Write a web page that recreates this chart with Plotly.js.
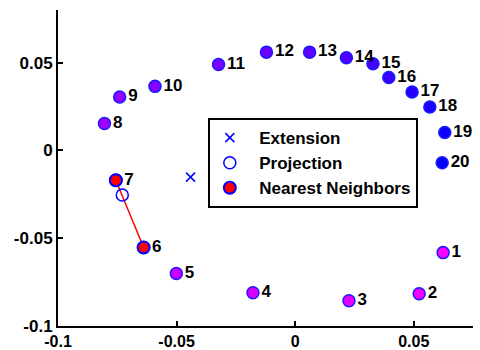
<!DOCTYPE html>
<html>
<head>
<meta charset="utf-8">
<script src="https://cdn.plot.ly/plotly-3.0.1.min.js"></script>
<style>html,body{margin:0;padding:0;background:#fff}#chart{width:480px;height:350px}</style>
</head>
<body>
<div id="chart"></div>
<script>
// Data
const pointLabels = ['1','2','3','4','5','6','7','8','9','10','11','12','13','14','15','16','17','18','19','20'];
const pointX = [0.0624, 0.0523, 0.0227, -0.0178, -0.0501, -0.0639, -0.0756, -0.0804, -0.0740, -0.0591,
                -0.0323, -0.0121, 0.0061, 0.0216, 0.0328, 0.0395, 0.0493, 0.0568, 0.0631, 0.0620];
const pointY = [-0.0582, -0.0816, -0.0856, -0.0811, -0.0701, -0.0553, -0.0170, 0.0153, 0.0305, 0.0365,
                0.0490, 0.0560, 0.0560, 0.0528, 0.0494, 0.0415, 0.0333, 0.0248, 0.0102, -0.0070];
const pointIndex = [1,2,3,4,5,6,7,8,9,10,11,12,13,14,15,16,17,18,19,20];
const extensionX = [-0.0441];
const extensionY = [-0.0152];
const projectionX = [-0.0729];
const projectionY = [-0.0254];
const neighborIdx = [7, 6];
const seriesNames = ['Extension', 'Projection', 'Nearest Neighbors'];
const xTickVals = [-0.1, -0.05, 0, 0.05];
const xTickText = ['-0.1', '-0.05', '0', '0.05'];
const yTickVals = [-0.1, -0.05, 0, 0.05];
const yTickText = ['-0.1', '-0.05', '0', '0.05'];

const b = s => '<b>' + s + '</b>';
const nbX = neighborIdx.map(i => pointX[i - 1]);
const nbY = neighborIdx.map(i => pointY[i - 1]);

const fam = 'Liberation Sans, Arial, sans-serif';
const labelFont = {family: fam, size: 17, color: '#000'};

const traces = [
  {
    x: pointX, y: pointY, text: pointLabels.map(b), type: 'scatter', mode: 'markers+text',
    textposition: 'middle right', textfont: labelFont, showlegend: false, hoverinfo: 'skip',
    marker: {size: 12, color: pointIndex, cmin: 1, cmax: 20,
             colorscale: [[0, '#ff00ff'], [1, '#0000ff']], showscale: false,
             line: {color: '#1a1aff', width: 1.5}}
  },
  {
    x: nbX, y: nbY, type: 'scatter', mode: 'lines', showlegend: false, hoverinfo: 'skip',
    line: {color: '#ff0000', width: 1.5}
  },
  {
    x: extensionX, y: extensionY, type: 'scatter', mode: 'markers', name: '&nbsp;&nbsp;' + b(seriesNames[0]),
    marker: {symbol: 'x-thin-open', size: 9, color: '#0000ff', line: {color: '#0000ff', width: 1.5}}
  },
  {
    x: projectionX, y: projectionY, type: 'scatter', mode: 'markers', name: '&nbsp;&nbsp;' + b(seriesNames[1]),
    marker: {symbol: 'circle-open', size: 12, color: '#0000ff', line: {color: '#0000ff', width: 1.5}}
  },
  {
    x: nbX, y: nbY, type: 'scatter', mode: 'markers', name: '&nbsp;&nbsp;' + b(seriesNames[2]),
    marker: {symbol: 'circle', size: 12, color: '#ff0000', line: {color: '#0000ff', width: 2}}
  }
];

const axisCommon = {
  showgrid: false, zeroline: false, showline: true, linecolor: '#000', linewidth: 2,
  ticks: 'inside', ticklen: 5, tickwidth: 2, tickcolor: '#000', mirror: false
};

const layout = {
  width: 480, height: 350,
  margin: {l: 58, r: 7, t: 10, b: 24, pad: 0},
  paper_bgcolor: '#fff', plot_bgcolor: '#fff',
  xaxis: Object.assign({}, axisCommon, {range: [-0.1, 0.075], tickvals: xTickVals, ticktext: xTickText.map(b),
                                        tickfont: {family: fam, size: 16, color: '#000'}}),
  yaxis: Object.assign({}, axisCommon, {range: [-0.1, 0.08], tickvals: yTickVals, ticktext: yTickText.map(b),
                                        tickfont: {family: fam, size: 17, color: '#000'}}),
  showlegend: true,
  legend: {
    x: 0.361, y: 0.658, xanchor: 'left', yanchor: 'top',
    bgcolor: '#fff', bordercolor: '#000', borderwidth: 2,
    font: {family: fam, size: 17, color: '#000'},
    traceorder: 'normal', itemwidth: 30, tracegroupgap: 0
  }
};

Plotly.newPlot('chart', traces, layout, {displayModeBar: false, staticPlot: true});
</script>
</body>
</html>
